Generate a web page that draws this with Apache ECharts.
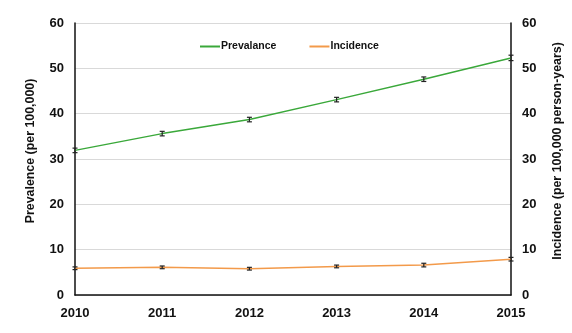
<!DOCTYPE html>
<html>
<head>
<meta charset="utf-8">
<script src="https://cdn.jsdelivr.net/npm/echarts@6/dist/echarts.min.js"></script>
<style>
  html, body { margin: 0; padding: 0; background: #fff; }
  #chart { width: 572px; height: 333px; }
</style>
</head>
<body>
<div id="chart"></div>
<script>
// Years on the x axis
var years = ['2010', '2011', '2012', '2013', '2014', '2015'];
// Prevalence per 100,000 and its error half-width
var prevalence = [31.9, 35.6, 38.7, 43.1, 47.6, 52.3];
var prevalenceErr = [0.5, 0.5, 0.5, 0.5, 0.5, 0.6];
// Incidence per 100,000 person-years and its error half-width
var incidence = [5.9, 6.1, 5.8, 6.3, 6.6, 7.9];
var incidenceErr = [0.3, 0.3, 0.3, 0.3, 0.4, 0.4];
// Axis ticks
var yMin = 0, yMax = 60, yStep = 10;

var FONT = '"Liberation Sans", Arial, sans-serif';

function errData(vals, errs) {
  return vals.map(function (v, i) { return [i, v - errs[i], v + errs[i]]; });
}

function errorBarRender(params, api) {
  var x = api.value(0);
  var lo = api.coord([x, api.value(1)]);
  var hi = api.coord([x, api.value(2)]);
  var w = 2.5;
  var style = { stroke: '#222', lineWidth: 1.2 };
  return {
    type: 'group',
    children: [
      { type: 'line', shape: { x1: lo[0], y1: lo[1], x2: hi[0], y2: hi[1] }, style: style },
      { type: 'line', shape: { x1: lo[0] - w, y1: lo[1], x2: lo[0] + w, y2: lo[1] }, style: style },
      { type: 'line', shape: { x1: hi[0] - w, y1: hi[1], x2: hi[0] + w, y2: hi[1] }, style: style }
    ]
  };
}

var chart = echarts.init(document.getElementById('chart'), null, { renderer: 'canvas' });

var axisLabelStyle = { color: '#111', fontFamily: FONT, fontWeight: 'bold', fontSize: 13 };
var axisNameStyle = { color: '#111', fontFamily: FONT, fontWeight: 'bold', fontSize: 12.4, padding: [0, 0, 0, 16] };

chart.setOption({
  animation: false,
  backgroundColor: '#fff',
  grid: { left: 75, right: 59, top: 23, bottom: 38 },
  legend: {
    top: 36,
    left: 195,
    itemGap: 33,
    itemWidth: 20,
    itemHeight: 2,
    icon: 'rect',
    textStyle: { color: '#111', fontFamily: FONT, fontWeight: 'bold', fontSize: 10.5, padding: [0, 0, 0, -4] },
    data: ['Prevalance', 'Incidence']
  },
  xAxis: {
    type: 'category',
    data: years,
    boundaryGap: false,
    axisLine: { lineStyle: { color: '#111', width: 1.5 } },
    axisTick: { show: false },
    axisLabel: Object.assign({ margin: 12 }, axisLabelStyle),
    splitLine: { show: false }
  },
  yAxis: [
    {
      type: 'value', min: yMin, max: yMax, interval: yStep,
      name: 'Prevalence (per 100,000)',
      nameLocation: 'middle', nameGap: 38, nameRotate: 90,
      nameTextStyle: axisNameStyle,
      axisLine: { show: true, lineStyle: { color: '#111', width: 1.5 } },
      axisTick: { show: false },
      axisLabel: Object.assign({ margin: 11 }, axisLabelStyle),
      splitLine: { show: true, lineStyle: { color: '#d9d9d9', width: 1 } }
    },
    {
      type: 'value', min: yMin, max: yMax, interval: yStep,
      name: 'Incidence (per 100,000 person-years)',
      nameLocation: 'middle', nameGap: 41, nameRotate: 90,
      nameTextStyle: axisNameStyle,
      axisLine: { show: true, lineStyle: { color: '#111', width: 1.5 } },
      axisTick: { show: false },
      axisLabel: Object.assign({ margin: 11 }, axisLabelStyle),
      splitLine: { show: false }
    }
  ],
  series: [
    {
      name: 'Prevalance', type: 'line', yAxisIndex: 0,
      data: prevalence, symbol: 'none',
      lineStyle: { color: '#3aa83a', width: 1.5 },
      itemStyle: { color: '#3aa83a' }, z: 3
    },
    {
      name: 'Incidence', type: 'line', yAxisIndex: 1,
      data: incidence, symbol: 'none',
      lineStyle: { color: '#f39a4a', width: 1.5 },
      itemStyle: { color: '#f39a4a' }, z: 3
    },
    {
      type: 'custom', yAxisIndex: 0, renderItem: errorBarRender,
      data: errData(prevalence, prevalenceErr), z: 4, silent: true
    },
    {
      type: 'custom', yAxisIndex: 1, renderItem: errorBarRender,
      data: errData(incidence, incidenceErr), z: 4, silent: true
    }
  ]
});
</script>
</body>
</html>
